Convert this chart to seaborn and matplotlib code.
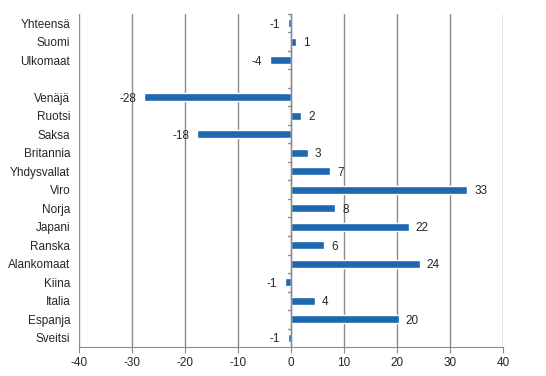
import numpy as np
import pandas as pd
import seaborn as sns
import matplotlib.pyplot as plt

# Maat ja muutos (%), luettu kuvasta
maat = ["Yhteensä", "Suomi", "Ulkomaat", " ", "Venäjä", "Ruotsi", "Saksa", "Britannia",
        "Yhdysvallat", "Viro", "Norja", "Japani", "Ranska", "Alankomaat", "Kiina",
        "Italia", "Espanja", "Sveitsi"]
muutos = [-0.6, 1.0, -4.0, np.nan, -27.6, 2.0, -17.6, 3.2,
          7.4, 33.3, 8.4, 22.3, 6.3, 24.3, -1.1,
          4.5, 20.4, -0.6]
xticks = [-40, -30, -20, -10, 0, 10, 20, 30, 40]

df = pd.DataFrame({"maa": maat, "muutos": muutos})

sns.set_style("white")
plt.rcParams["font.family"] = ["Liberation Sans", "DejaVu Sans"]
plt.rcParams["font.size"] = 8.5

fig = plt.figure(figsize=(5.46, 3.76), dpi=100)
ax = fig.add_axes([0.144, 0.077, 0.777, 0.886])

sns.barplot(data=df.dropna(), x="muutos", y="maa", order=maat, orient="h",
            color="#1f67b1", saturation=1, width=0.42, ax=ax, zorder=3)

grid = "#8c8c8c"
ax.set_xlim(-40, 40)
ax.set_ylim(len(maat) - 0.5, -0.5)
ax.set_xticks(xticks)
ax.set_xticklabels([str(t) for t in xticks])
for t in xticks:
    ax.axvline(t, color=grid, lw=1, zorder=1)

# nolla-akseli ja luokkien väliset tikit
ax.axvline(0, color=grid, lw=1, zorder=4)
for i in range(len(maat)):
    ax.plot([-0.6, 0], [i - 0.5, i - 0.5], color=grid, lw=1, zorder=4, clip_on=False)

for s in ["top", "right", "left"]:
    ax.spines[s].set_visible(False)
ax.spines["bottom"].set_color(grid)
ax.tick_params(axis="x", direction="out", length=4, color=grid, bottom=True, pad=3)
ax.tick_params(axis="y", length=0, pad=6)
ax.set_xlabel("")
ax.set_ylabel("")

# arvot palkkien päihin
for i, v in enumerate(muutos):
    if np.isnan(v):
        continue
    if v >= 0:
        ax.text(v + 1.3, i, f"{v:.0f}", va="center_baseline", ha="left", fontsize=8.5)
    else:
        ax.text(v - 1.5, i, f"{v:.0f}", va="center_baseline", ha="right", fontsize=8.5)

plt.savefig("out.png", dpi=100)
